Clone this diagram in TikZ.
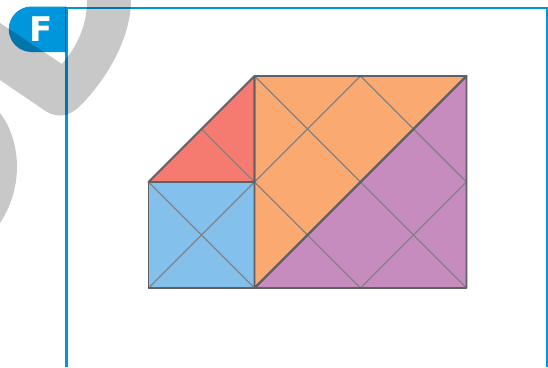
\documentclass[tikz,border=0pt]{standalone}
\usepackage{fontspec}
\setmainfont{DejaVu Sans}
\definecolor{brandblue}{RGB}{0,150,219}
\definecolor{ghost}{RGB}{200,200,200}
\definecolor{edgegrey}{RGB}{95,95,100}
\definecolor{thingrey}{RGB}{130,130,135}
\definecolor{cblue}{RGB}{131,193,236}
\definecolor{cred}{RGB}{245,122,112}
\definecolor{corange}{RGB}{250,169,112}
\definecolor{cpurple}{RGB}{198,140,190}
\tikzset{
  piece/.style={draw=edgegrey,line width=1.8pt,line join=round},
  fold/.style={draw=thingrey,line width=1.3pt},
  frame/.style={draw=brandblue,line width=2.4pt},
}
\begin{document}
\begin{tikzpicture}[x=1pt,y=-1pt]
\useasboundingbox (0,0) rectangle (548,367);
\fill[white] (0,0) rectangle (548,367);
% ghost shapes
\fill[ghost] (0,23) -- (62,64) .. controls (78,45) and (87,25) .. (87,0) -- (131,0)
  .. controls (131,35) and (110,75) .. (82,104) .. controls (72,115) and (60,119) .. (47,112) -- (0,80) -- cycle;
\fill[ghost] (0,113) .. controls (11,127) and (17,147) .. (17,167) .. controls (17,188) and (10,208) .. (0,223) -- cycle;
% frame and badge
\begin{scope}[blend mode=multiply]
\draw[frame] (66.5,367) -- (66.5,8) -- (547,8) -- (547,367);
\fill[brandblue] (66,6.5) -- (31.5,6.5) arc[start angle=90,end angle=270,radius=22.75pt] -- (66,52) -- cycle;
\end{scope}
\node[text=white,font=\fontsize{34}{34}\selectfont\bfseries,inner sep=0pt] (badge) at (41,29) {F};
% coordinates
\coordinate (a) at (148.5,182);
\coordinate (b) at (254.5,76);
\coordinate (c) at (254.5,182);
\coordinate (d) at (148.5,288);
\coordinate (e) at (254.5,288);
\coordinate (f) at (466.5,76);
\coordinate (g) at (466.5,288);
\coordinate (h) at (360.5,76);
\coordinate (i) at (360.5,288);
\coordinate (j) at (466.5,182);
\coordinate (k) at (201.5,129);
% fills
\fill[cblue] (a) rectangle (e);
\fill[cred] (a) -- (b) -- (c) -- cycle;
\fill[corange] (b) -- (f) -- (e) -- cycle;
\fill[cpurple] (f) -- (g) -- (e) -- cycle;
% fold lines
\draw[fold] (a) -- (e) (d) -- (c);
\draw[fold] (k) -- (c);
\draw[fold] (b) -- (g) (c) -- (i) (h) -- (j);
\draw[fold] (c) -- (h) (i) -- (j);
% outlines
\draw[piece] (a) rectangle (e);
\draw[piece] (a) -- (b) -- (c) -- cycle;
\draw[piece] (b) -- (f) -- (e) -- cycle;
\draw[piece] (f) -- (g) -- (e) -- cycle;
\end{tikzpicture}
\end{document}
